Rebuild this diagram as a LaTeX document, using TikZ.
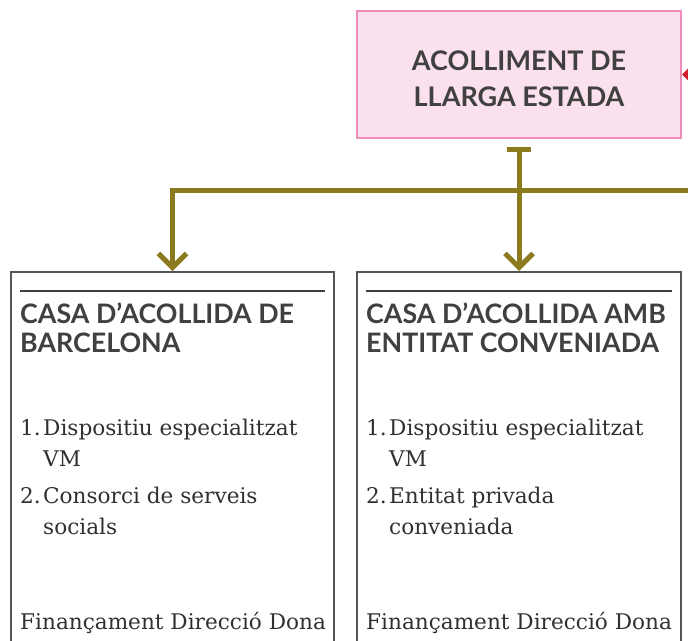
\documentclass[tikz,border=0pt]{standalone}
\usepackage{fontspec}
\setmainfont{DejaVu Serif}
\setsansfont{Lato}
\usetikzlibrary{arrows.meta,positioning}

\definecolor{boxpink}{RGB}{251,224,238}
\definecolor{pinkline}{RGB}{240,140,185}
\definecolor{textgray}{RGB}{64,64,64}
\definecolor{itemgray}{RGB}{48,48,48}
\definecolor{boxgray}{RGB}{85,85,85}
\definecolor{olive}{RGB}{140,122,30}
\definecolor{arrowred}{RGB}{210,30,45}

\begin{document}
\begin{tikzpicture}[x=1pt,y=-1pt,
  head node/.style={draw=pinkline, line width=2pt, fill=boxpink, minimum width=324pt, minimum height=127pt, inner sep=0pt},
  head text/.style={anchor=base, inner sep=0pt, text=textgray, font=\sffamily\bfseries\fontsize{27}{36}\selectfont},
  casa node/.style={draw=boxgray, line width=1.6pt, minimum height=420pt, anchor=north, inner sep=0pt},
  title text/.style={anchor=base west, inner sep=0pt, text=textgray, font=\sffamily\bfseries\fontsize{26.8}{29}\selectfont},
  item text/.style={anchor=base west, inner sep=0pt, text=itemgray, font=\rmfamily\fontsize{21.6}{31}\selectfont},
  link line/.style={draw=olive, line width=5pt},
]
\useasboundingbox (0,0) rectangle (688,640);
\clip (0,0) rectangle (688,640);

% long stay box
\node[head node] (top) at (519,74.5) {};
\node[head text] (top1) at (519,70) {ACOLLIMENT DE};
\node[head text] (top2) at (519,106) {LLARGA ESTADA};

% the two houses
\node[casa node, minimum width=323pt] (casaA) at (172.5,271) {};
\node[casa node, minimum width=324pt] (casaB) at (519,271) {};

\draw[textgray, line width=2.5pt] (20,291) -- (325,291);
\draw[textgray, line width=2.5pt] (366,291) -- (672,291);

\node[title text] (tA1) at (20,323) {CASA D’ACOLLIDA DE};
\node[title text] (tA2) at (20,352) {BARCELONA};
\node[title text] (tB1) at (366,323) {CASA D’ACOLLIDA AMB};
\node[title text] (tB2) at (366,352) {ENTITAT CONVENIADA};

\node[item text] (nA1) at (20,435) {1.};
\node[item text] (iA1) at (43,435) {Dispositiu especialitzat};
\node[item text] (iA2) at (43,466) {VM};
\node[item text] (nA2) at (20,503) {2.};
\node[item text] (iA3) at (43,503) {Consorci de serveis};
\node[item text] (iA4) at (43,534) {socials};
\node[item text] (fA) at (20,629) {Finançament Direcció Dona};

\node[item text] (nB1) at (366,435) {1.};
\node[item text] (iB1) at (389,435) {Dispositiu especialitzat};
\node[item text] (iB2) at (389,466) {VM};
\node[item text] (nB2) at (366,503) {2.};
\node[item text] (iB3) at (389,503) {Entitat privada};
\node[item text] (iB4) at (389,534) {conveniada};
\node[item text] (fB) at (366,629) {Finançament Direcció Dona};

% connectors
\coordinate (olivein) at (700,190);
\coordinate (redin) at (740,74.5);
\draw[link line, -{Straight Barb[length=14pt,width=28pt]}] (olivein) -| (casaA.north);
\draw[link line, {Bar[width=24pt]}-{Straight Barb[length=14pt,width=28pt]}, shorten <=7.5pt] (top.south) -- (casaB.north);
\draw[arrowred, line width=2pt, -{Triangle[length=8pt,width=15pt]}] (redin) -- (top.east);

\end{tikzpicture}
\end{document}
